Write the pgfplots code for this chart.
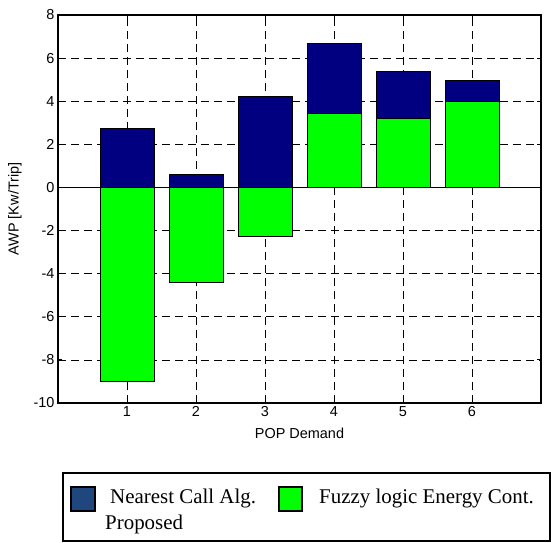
\documentclass[border=0pt]{standalone}
\usepackage{fontspec}
\setmainfont{Liberation Sans}
\newfontfamily\timesfont{Liberation Serif}
\usepackage{pgfplots}
\pgfplotsset{compat=1.18}
\definecolor{navybar}{RGB}{0,0,128}
\definecolor{greenbar}{RGB}{0,255,0}
\definecolor{legnavy}{RGB}{31,71,125}
\begin{document}
\begin{tikzpicture}[x=1bp,y=1bp]
\path[use as bounding box] (-58,-140) rectangle (493,403);
\begin{axis}[at={(0,0)}, anchor=south west, scale only axis,
  width=483bp, height=388bp,
  xmin=0, xmax=7, ymin=-10, ymax=8,
  xtick={1,2,3,4,5,6}, ytick={-10,-8,-6,-4,-2,0,2,4,6,8},
  grid=major, grid style={black, line width=0.7bp, dash pattern=on 8bp off 5bp},
  tick align=inside, major tick length=4bp,
  tick style={black, line width=0.8bp},
  ticklabel style={font=\fontsize{14.5}{16}\selectfont},
  /pgf/number format/assume math mode=true,
  xlabel={POP Demand}, ylabel={AWP [Kw/Trip]},
  label style={font=\fontsize{14.5}{16}\selectfont},
  xlabel style={at={(axis description cs:0.5,-0.077)}, anchor=center},
  ylabel style={at={(axis description cs:-0.089,0.5)}, anchor=center},
  axis line style={line width=1.3bp},
]
\addplot[ybar, bar width=0.78, bar shift=0pt, fill=navybar, draw=black, line width=0.8bp]
  coordinates {(1,2.75) (2,0.6) (3,4.23) (4,6.67) (5,5.4) (6,4.95)};
\addplot[ybar, bar width=0.78, bar shift=0pt, fill=greenbar, draw=black, line width=0.8bp]
  coordinates {(1,-9.0) (2,-4.42) (3,-2.28) (4,3.43) (5,3.18) (6,4.0)};
\draw[black, line width=0.9bp] (axis cs:0,0) -- (axis cs:7,0);
\end{axis}
% legend
\draw[black, line width=1.5bp] (5,-70) rectangle (492,-138);
\draw[black, line width=1.2bp, fill=legnavy] (13,-84) rectangle (37,-108);
\draw[black, line width=1.2bp, fill=greenbar] (221,-84) rectangle (244,-108);
\node[anchor=base west, inner sep=0pt, font=\timesfont\fontsize{21}{24}\selectfont] at (52,-100) {Nearest Call Alg.};
\node[anchor=base west, inner sep=0pt, font=\timesfont\fontsize{21}{24}\selectfont] at (47,-126) {Proposed};
\node[anchor=base west, inner sep=0pt, font=\timesfont\fontsize{21}{24}\selectfont] at (261,-100) {Fuzzy logic Energy Cont.};
\end{tikzpicture}
\end{document}
